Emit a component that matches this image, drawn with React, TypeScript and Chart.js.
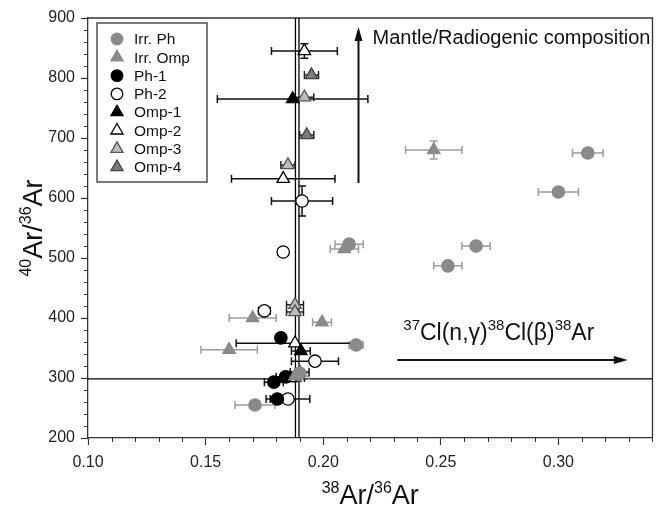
import { useEffect, useRef } from "react";
import { Chart, registerables } from "chart.js";
Chart.register(...registerables);

const FONT = '"Liberation Sans", Arial, Helvetica, sans-serif';

// ---------- data ----------
const irrPhX = [0.3125, 0.300, 0.265, 0.253, 0.211, 0.214, 0.171, 0.190];
const irrPhY = [675, 610, 520, 487, 523, 355, 255, 308];
const irrPhXErr = [0.0065, 0.0085, 0.006, 0.006, 0.006, 0.003, 0.0085, 0.004];
const irrPhYErr = [0, 0, 0, 0, 0, 0, 0, 0];

const irrOmpX = [0.247, 0.209, 0.170, 0.1995, 0.160, 0.188];
const irrOmpY = [680, 515, 400, 393, 347, 303];
const irrOmpXErr = [0.012, 0.006, 0.010, 0.004, 0.012, 0.006];
const irrOmpYErr = [15, 0, 0, 0, 0, 0];

const ph1X = [0.182, 0.184, 0.179, 0.1805];
const ph1Y = [367, 302, 293, 265];
const ph1XErr = [0.002, 0.004, 0.004, 0.003];
const ph1YErr = [0, 0, 0, 0];

const ph2X = [0.191, 0.183, 0.175, 0.1965, 0.185];
const ph2Y = [595, 510, 412, 328, 265];
const ph2XErr = [0.013, 0.002, 0.0025, 0.010, 0.0093];
const ph2YErr = [25, 0, 0, 0, 0];

const omp1X = [0.187, 0.1905];
const omp1Y = [765, 345];
const omp1XErr = [0.032, 0.004];
const omp1YErr = [0, 0];

const omp2X = [0.192, 0.183, 0.188, 0.186];
const omp2Y = [845, 632, 358, 300];
const omp2XErr = [0.014, 0.022, 0.025, 0.004];
const omp2YErr = [12, 0, 0, 0];

const omp3X = [0.192, 0.185, 0.188, 0.188, 0.190];
const omp3Y = [768, 655, 422, 410, 310];
const omp3XErr = [0.004, 0.003, 0.0036, 0.0036, 0.004];
const omp3YErr = [0, 0, 0, 0, 0];

const omp4X = [0.195, 0.193, 0.188];
const omp4Y = [805, 705, 300];
const omp4XErr = [0.003, 0.003, 0.004];
const omp4YErr = [0, 0, 0];

const xMin = 0.10;
const xMax = 0.34;
const xStep = 0.05;
const xMinorStep = 0.01;
const yMin = 200;
const yMax = 900;
const yStep = 100;
const yMinorStep = 20;

const atmX = [0.1882, 0.1897];
const atmY = 298.56;

const upArrowX = 0.215;
const upArrowY = [625, 885];
const rightArrowY = 330;
const rightArrowX = [0.2315, 0.3295];

const labels = ["Irr. Ph", "Irr. Omp", "Ph-1", "Ph-2", "Omp-1", "Omp-2", "Omp-3", "Omp-4"];

type Shape = "circle" | "triangle";
const SERIES: {
  label: string; x: number[]; y: number[]; xe: number[]; ye: number[];
  shape: Shape; fill: string; stroke: string; bar: string;
}[] = [
  { label: labels[0], x: irrPhX, y: irrPhY, xe: irrPhXErr, ye: irrPhYErr, shape: "circle", fill: "#8a8a8a", stroke: "#8a8a8a", bar: "#9c9c9c" },
  { label: labels[1], x: irrOmpX, y: irrOmpY, xe: irrOmpXErr, ye: irrOmpYErr, shape: "triangle", fill: "#8a8a8a", stroke: "#8a8a8a", bar: "#9c9c9c" },
  { label: labels[2], x: ph1X, y: ph1Y, xe: ph1XErr, ye: ph1YErr, shape: "circle", fill: "#000000", stroke: "#000000", bar: "#111111" },
  { label: labels[3], x: ph2X, y: ph2Y, xe: ph2XErr, ye: ph2YErr, shape: "circle", fill: "#ffffff", stroke: "#000000", bar: "#111111" },
  { label: labels[4], x: omp1X, y: omp1Y, xe: omp1XErr, ye: omp1YErr, shape: "triangle", fill: "#000000", stroke: "#000000", bar: "#111111" },
  { label: labels[5], x: omp2X, y: omp2Y, xe: omp2XErr, ye: omp2YErr, shape: "triangle", fill: "#ffffff", stroke: "#000000", bar: "#111111" },
  { label: labels[6], x: omp3X, y: omp3Y, xe: omp3XErr, ye: omp3YErr, shape: "triangle", fill: "#bdbdbd", stroke: "#555555", bar: "#222222" },
  { label: labels[7], x: omp4X, y: omp4Y, xe: omp4XErr, ye: omp4YErr, shape: "triangle", fill: "#7c7c7c", stroke: "#444444", bar: "#222222" },
];

const CIRCLE_R = 6.2;
const TRI_R = 7.2;

function drawMarker(ctx: CanvasRenderingContext2D, shape: Shape, x: number, y: number, fill: string, stroke: string) {
  ctx.beginPath();
  if (shape === "circle") {
    ctx.arc(x, y, 5.8, 0, Math.PI * 2);
  } else {
    const r = 7;
    ctx.moveTo(x, y - r);
    ctx.lineTo(x + r * 0.866, y + r * 0.5);
    ctx.lineTo(x - r * 0.866, y + r * 0.5);
    ctx.closePath();
  }
  ctx.fillStyle = fill;
  ctx.fill();
  ctx.lineWidth = 1.3;
  ctx.strokeStyle = stroke;
  ctx.stroke();
}

function drawRich(ctx: CanvasRenderingContext2D, parts: [string, boolean][], x: number, y: number, big: number, small: number, align: "left" | "center") {
  const widths = parts.map(([t, s]) => {
    ctx.font = `${s ? small : big}px ${FONT}`;
    return ctx.measureText(t).width;
  });
  const total = widths.reduce((a, b) => a + b, 0);
  let cx = align === "center" ? x - total / 2 : x;
  ctx.textBaseline = "alphabetic";
  ctx.textAlign = "left";
  parts.forEach(([t, s], i) => {
    ctx.font = `${s ? small : big}px ${FONT}`;
    ctx.fillText(t, cx, s ? y - big * 0.42 : y);
    cx += widths[i];
  });
}

const decorPlugin = {
  id: "decor",
  beforeDatasetsDraw(chart: any) {
    const { ctx, chartArea: a, scales } = chart;
    const xs = scales.x, ys = scales.y;
    ctx.save();
    ctx.strokeStyle = "#333";
    ctx.lineWidth = 1.3;
    ctx.beginPath();
    ctx.moveTo(a.left, a.top);
    ctx.lineTo(a.right, a.top);
    ctx.lineTo(a.right, a.bottom);
    ctx.stroke();
    ctx.lineWidth = 1;
    ctx.beginPath();
    const nX = Math.round((xMax - xMin) / xMinorStep);
    for (let i = 0; i <= nX; i++) {
      const v = xMin + i * xMinorStep;
      if (Math.abs(v / xStep - Math.round(v / xStep)) < 1e-6) continue;
      const px = Math.round(xs.getPixelForValue(v)) + 0.5;
      ctx.moveTo(px, a.bottom);
      ctx.lineTo(px, a.bottom + 4);
    }
    const nY = Math.round((yMax - yMin) / yMinorStep);
    for (let i = 0; i <= nY; i++) {
      const v = yMin + i * yMinorStep;
      if (v % yStep === 0) continue;
      const py = Math.round(ys.getPixelForValue(v)) + 0.5;
      ctx.moveTo(a.left, py);
      ctx.lineTo(a.left - 4, py);
    }
    ctx.stroke();
    ctx.strokeStyle = "#000";
    ctx.lineWidth = 1.3;
    ctx.beginPath();
    const hy = ys.getPixelForValue(atmY);
    ctx.moveTo(a.left, hy);
    ctx.lineTo(a.right, hy);
    atmX.forEach((v) => {
      const vx = xs.getPixelForValue(v);
      ctx.moveTo(vx, a.top);
      ctx.lineTo(vx, a.bottom);
    });
    ctx.stroke();
    const cap = 4;
    chart.data.datasets.forEach((ds: any) => {
      ctx.strokeStyle = ds.barColor;
      ctx.lineWidth = 1.5;
      ctx.beginPath();
      ds.data.forEach((p: any) => {
        const px = xs.getPixelForValue(p.x);
        const py = ys.getPixelForValue(p.y);
        if (p.xe > 0) {
          const l = xs.getPixelForValue(p.x - p.xe);
          const r = xs.getPixelForValue(p.x + p.xe);
          ctx.moveTo(l, py); ctx.lineTo(r, py);
          ctx.moveTo(l, py - cap); ctx.lineTo(l, py + cap);
          ctx.moveTo(r, py - cap); ctx.lineTo(r, py + cap);
        }
        if (p.ye > 0) {
          const t = ys.getPixelForValue(p.y + p.ye);
          const b = ys.getPixelForValue(p.y - p.ye);
          ctx.moveTo(px, t); ctx.lineTo(px, b);
          ctx.moveTo(px - cap, t); ctx.lineTo(px + cap, t);
          ctx.moveTo(px - cap, b); ctx.lineTo(px + cap, b);
        }
      });
      ctx.stroke();
    });
    ctx.restore();
  },
  afterDraw(chart: any) {
    const { ctx, chartArea: a, scales } = chart;
    const xs = scales.x, ys = scales.y;
    ctx.save();
    ctx.fillStyle = "#111";
    ctx.strokeStyle = "#111";
    ctx.lineWidth = 2;
    const ax = xs.getPixelForValue(upArrowX);
    const ay0 = ys.getPixelForValue(upArrowY[0]);
    const ay1 = ys.getPixelForValue(upArrowY[1]);
    ctx.beginPath();
    ctx.moveTo(ax, ay0);
    ctx.lineTo(ax, ay1 + 8);
    ctx.stroke();
    ctx.beginPath();
    ctx.moveTo(ax, ay1);
    ctx.lineTo(ax - 4, ay1 + 14);
    ctx.lineTo(ax + 4, ay1 + 14);
    ctx.closePath();
    ctx.fill();
    const hy = ys.getPixelForValue(rightArrowY);
    const hx0 = xs.getPixelForValue(rightArrowX[0]);
    const hx1 = xs.getPixelForValue(rightArrowX[1]);
    ctx.beginPath();
    ctx.moveTo(hx0, hy);
    ctx.lineTo(hx1 - 8, hy);
    ctx.stroke();
    ctx.beginPath();
    ctx.moveTo(hx1, hy);
    ctx.lineTo(hx1 - 14, hy - 4);
    ctx.lineTo(hx1 - 14, hy + 4);
    ctx.closePath();
    ctx.fill();
    ctx.font = `20px ${FONT}`;
    ctx.textAlign = "left";
    ctx.textBaseline = "alphabetic";
    ctx.fillText("Mantle/Radiogenic composition", ax + 14, ay1 + 17);
    drawRich(ctx, [["37", true], ["Cl(n,γ)", false], ["38", true], ["Cl(β)", false], ["38", true], ["Ar", false]], hx0 + 6, hy - 20, 23, 15, "left");
    // legend
    const lx = 97, ly = 23, lw = 110, lh = 159;
    ctx.fillStyle = "#fff";
    ctx.fillRect(lx, ly, lw, lh);
    ctx.lineWidth = 1.3;
    ctx.strokeStyle = "#333";
    ctx.strokeRect(lx, ly, lw, lh);
    SERIES.forEach((s, i) => {
      const yy = 39 + i * 18.3;
      drawMarker(ctx, s.shape, 117, yy, s.fill, s.stroke);
      ctx.fillStyle = "#111";
      ctx.font = `15.5px ${FONT}`;
      ctx.textBaseline = "middle";
      ctx.fillText(s.label, 134, yy + 1);
    });
    // axis titles
    ctx.fillStyle = "#111";
    drawRich(ctx, [["38", true], ["Ar/", false], ["36", true], ["Ar", false]], (a.left + a.right) / 2, 504, 27, 16, "center");
    ctx.translate(42, (a.top + a.bottom) / 2);
    ctx.rotate(-Math.PI / 2);
    drawRich(ctx, [["40", true], ["Ar/", false], ["36", true], ["Ar", false]], 0, 0, 27, 16, "center");
    ctx.restore();
  },
};

export default function App() {
  const ref = useRef<HTMLCanvasElement | null>(null);
  useEffect(() => {
    if (!ref.current) return;
    const datasets = SERIES.map((s) => ({
      label: s.label,
      data: s.x.map((xv, i) => ({ x: xv, y: s.y[i], xe: s.xe[i], ye: s.ye[i] })),
      pointStyle: s.shape,
      pointRadius: s.shape === "circle" ? CIRCLE_R : TRI_R,
      pointHoverRadius: s.shape === "circle" ? CIRCLE_R : TRI_R,
      backgroundColor: s.fill,
      borderColor: s.stroke,
      pointBorderWidth: 1.3,
      showLine: false,
      barColor: s.bar,
    }));
    const chart = new Chart(ref.current, {
      type: "scatter",
      data: { datasets: datasets as any },
      options: {
        responsive: false,
        animation: false,
        events: [],
        layout: { padding: { left: 0, right: 2, top: 18, bottom: 0 } },
        plugins: { legend: { display: false }, tooltip: { enabled: false } },
        scales: {
          x: {
            type: "linear",
            min: xMin,
            max: xMax,
            afterFit: (s: any) => { s.height = 76; },
            border: { display: true, color: "#333", width: 1.3 },
            grid: { drawOnChartArea: false, drawTicks: true, tickLength: 7, color: "#333", tickWidth: 1.2 },
            ticks: {
              stepSize: xStep,
              includeBounds: false,
              autoSkip: false,
              maxRotation: 0,
              padding: 8,
              color: "#222",
              font: { family: FONT, size: 16 },
              callback: (v: any) => Number(v).toFixed(2),
            },
          },
          y: {
            type: "linear",
            min: yMin,
            max: yMax,
            afterFit: (s: any) => { s.width = 88; },
            border: { display: true, color: "#333", width: 1.3 },
            grid: { drawOnChartArea: false, drawTicks: true, tickLength: 7, color: "#333", tickWidth: 1.2 },
            ticks: {
              stepSize: yStep,
              autoSkip: false,
              padding: 6,
              color: "#222",
              font: { family: FONT, size: 16 },
            },
          },
        },
      },
      plugins: [decorPlugin],
    } as any);
    return () => chart.destroy();
  }, []);
  return (
    <div style={{ position: "absolute", left: 0, top: 0, width: 661, height: 514, background: "#fff" }}>
      <canvas ref={ref} width={661} height={514} style={{ display: "block" }} />
    </div>
  );
}
